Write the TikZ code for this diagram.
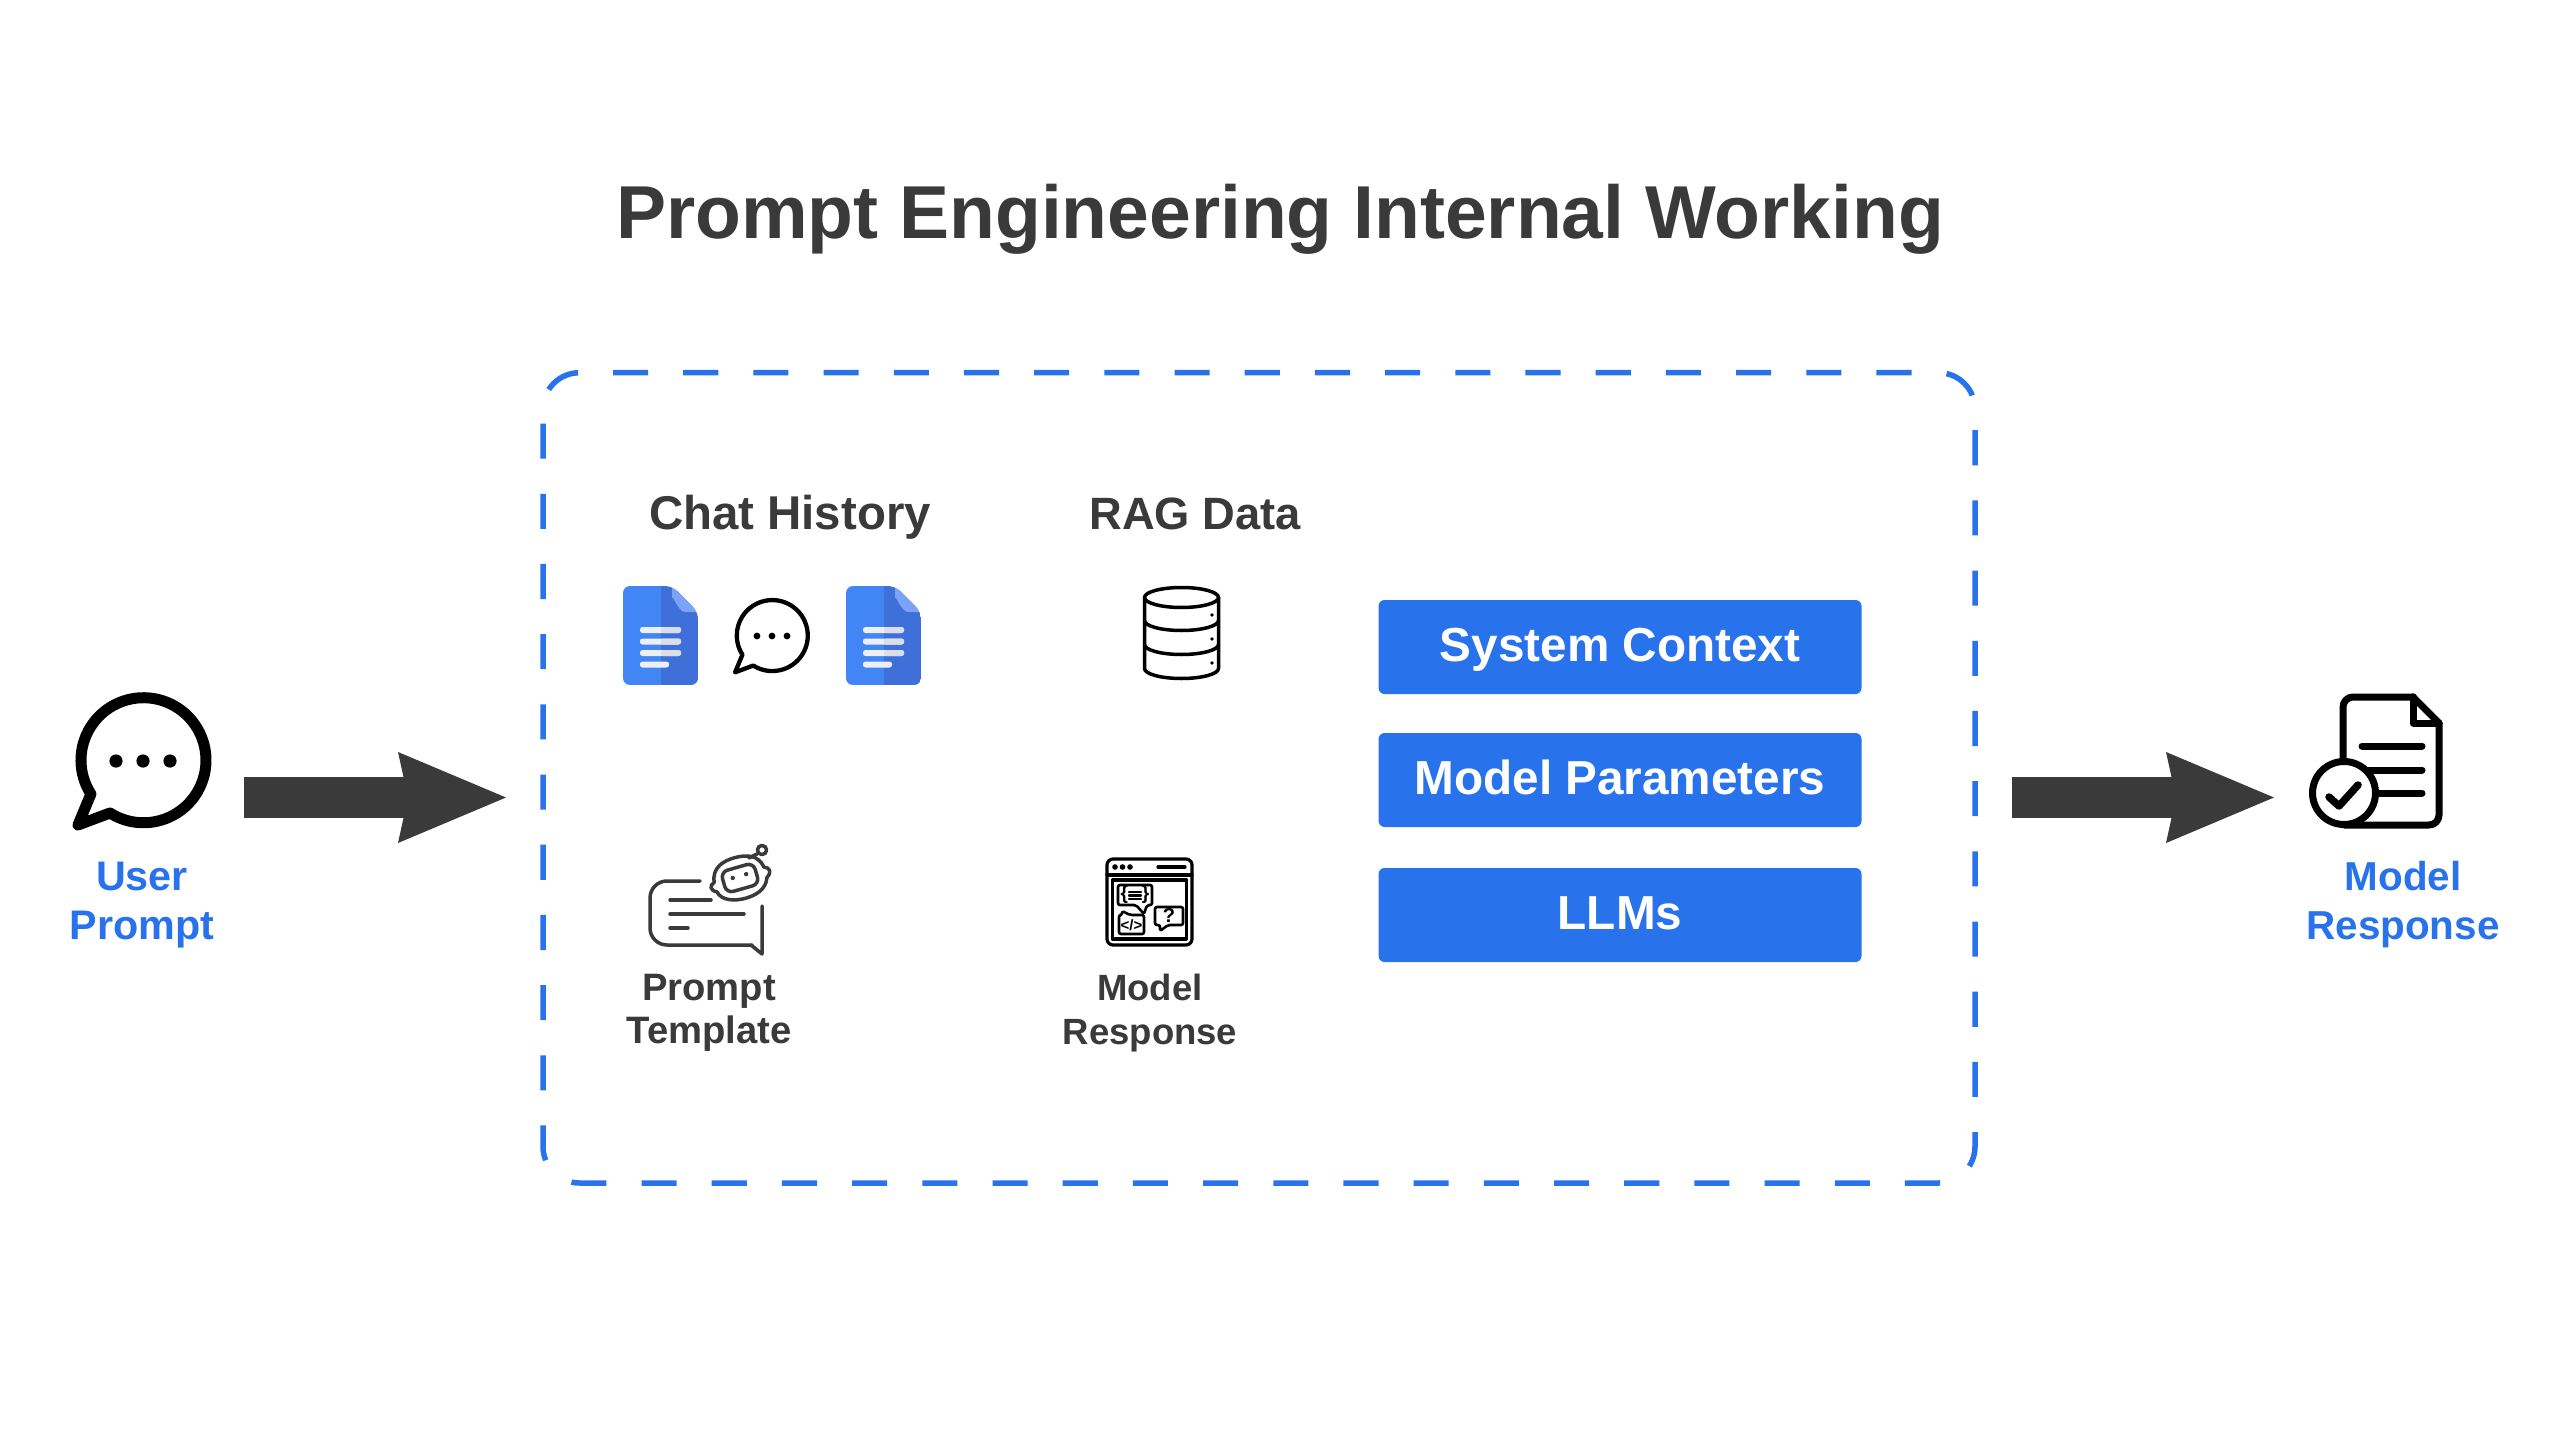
\documentclass[tikz,border=0pt]{standalone}
\usepackage{fontspec}
\setmainfont{Liberation Sans}
\usetikzlibrary{arrows.meta}
\definecolor{ink}{HTML}{3A3A3A}
\definecolor{brand}{HTML}{2873EB}
\definecolor{docA}{HTML}{4285F4}
\definecolor{docB}{HTML}{3F6FD9}
\definecolor{docC}{HTML}{7BA3F7}
\definecolor{docL}{HTML}{EEEFF4}
\definecolor{docM}{HTML}{D9DEEA}
\tikzset{
  every node/.style={inner sep=0pt,outer sep=0pt},
  titletext/.style={font=\bfseries\fontsize{75}{75}\selectfont,text=ink,anchor=base},
  headtext/.style={font=\bfseries\fontsize{47.4}{47.4}\selectfont,text=ink,anchor=base},
  subtext/.style={font=\bfseries\fontsize{37.5}{43.5}\selectfont,text=ink,align=center},
  bluetext/.style={font=\bfseries\fontsize{41.3}{49}\selectfont,text=brand,align=center},
  panelbox/.style={fill=brand,rounded corners=6pt,minimum width=483pt,minimum height=94pt,text=white,
    font=\bfseries\fontsize{47.7}{47.7}\selectfont,text height=29pt,text depth=0pt},
  flow/.style={draw=ink,line width=41pt,-{Stealth[length=108pt,width=91pt,inset=10pt,line width=0pt]}},
  blackline/.style={draw=black,line cap=round,line join=round},
  greyline/.style={draw=ink,line width=3.5pt,line cap=round,line join=round},
}
\newcommand{\bubbleshape}{(-33,52) arc[start angle=122.4,end angle=-212.7,radius=62.5] -- (-65,64) -- cycle}
\newcommand{\gdoc}[1]{%
\begin{scope}[shift={(#1,586)}]
  \begin{scope}
    \clip[rounded corners=7pt] (8,0) -- (0,0) -- (0,99) -- (75,99) -- (75,26) -- (49,0) [sharp corners] -- cycle;
    \fill[docA] (0,0) rectangle (38,99);
    \fill[docB] (38,0) rectangle (75,99);
    \fill[docC] (49,0) -- (75,26) -- (62,26) to[out=180,in=90] (49,13) -- cycle;
  \end{scope}
  \foreach \yy/\xx in {44/58,55.5/58,67/58,78.5/46}{
    \fill[docL,rounded corners=2.5pt] (17,\yy-3) rectangle (\xx,\yy+3);
  }
  \foreach \yy in {44,55.5,67}{
    \fill[docM,rounded corners=2.5pt] (38,\yy-3) rectangle (58,\yy+3);
  }
\end{scope}}
\begin{document}
\begin{tikzpicture}[x=1pt,y=-1pt]
\useasboundingbox[fill=white] (0,0) rectangle (2560,1439);

% title
\node[titletext] (title) at (1280,238.5) {Prompt Engineering Internal Working};

% dashed container
\draw[brand,line width=5.5pt,dash pattern=on 35.09pt off 35.1pt,rounded corners=36.5pt]
  (613,372.7) -- (1975,372.7) -- (1975,1183) -- (543,1183) -- (543,372.7) -- (613,372.7);

% user prompt icon
\begin{scope}[shift={(143,761)}]
  \draw[blackline,line width=11pt] \bubbleshape;
  \foreach \dx in {-27,0,27} \fill[black] (\dx,0) circle[radius=6.6];
\end{scope}
\node[bluetext] (userlabel) at (142,905) {User\\Prompt};

% flow arrows
\coordinate (inA) at (244,797.5);
\coordinate (inB) at (506,797.5);
\coordinate (outA) at (2011.5,797.5);
\coordinate (outB) at (2274,797.5);
\draw[flow] (inA) -- (inB);
\draw[flow] (outA) -- (outB);

% headings
\node[headtext] (chat) at (790,529.5) {Chat History};
\node[headtext,font=\bfseries\fontsize{45.3}{45.3}\selectfont] (rag) at (1195,529.5) {RAG Data};

% google docs + chat
\gdoc{623}
\gdoc{846}
\begin{scope}[shift={(772,636)},scale=0.568]
  \draw[blackline,line width=4.3pt] \bubbleshape;
\end{scope}
\foreach \px in {757,772,787} \fill[black] (\px,636) circle[radius=3.4];

% database
\begin{scope}[blackline,line width=3.5pt]
  \draw (1181.5,597.5) ellipse[x radius=37,y radius=10];
  \draw (1144.5,597.5) -- (1144.5,668.5) arc[start angle=180,end angle=0,x radius=37,y radius=10] -- (1218.5,597.5);
  \draw (1144.5,620.5) arc[start angle=180,end angle=0,x radius=37,y radius=10];
  \draw (1144.5,644.5) arc[start angle=180,end angle=0,x radius=37,y radius=10];
\end{scope}
\foreach \py in {615,639,663} \fill[black] (1212,\py) circle[radius=1.9];

% prompt template icon
\draw[greyline,rounded corners=17pt] (700,881) -- (650,881) -- (650,945) -- (752,945);
\draw[greyline] (751,945) -- (762,954) -- (762,906);
\draw[greyline] (670,900) -- (711,900);
\draw[greyline] (670,914) -- (744,914);
\draw[greyline] (670,928) -- (688,928);
\begin{scope}[shift={(740,878)},rotate=16]
  \draw[greyline,fill=white] (-26,-3) .. controls (-24,-18) and (-11,-21) .. (0,-21) .. controls (13,-21) and (24,-17) .. (26,-4) .. controls (32,-2) and (32,4) .. (26,7) .. controls (22,18) and (11,21) .. (0,21) .. controls (-11,21) and (-24,17) .. (-26,7) .. controls (-32,4) and (-32,-1) .. (-26,-3) -- cycle;
  \draw[greyline,rounded corners=7pt] (-17,-11) rectangle (17,11);
  \fill[ink] (-7,-2) circle[radius=2.2];
  \fill[ink] (7,-2) circle[radius=2.2];
\end{scope}
\draw[greyline] (749,858) -- (757,854);
\draw[greyline] (762,850) circle[radius=4.6];
\node[subtext,font=\bfseries\fontsize{38.2}{43.5}\selectfont] (tpl) at (709,1013) {Prompt\\Template};

% model response window icon
\begin{scope}[draw=black,line width=3.2pt,line cap=round,line join=round]
  \draw[rounded corners=6pt] (1107,859) rectangle (1192,945);
  \draw (1107,875) -- (1192,875);
  \draw (1112.5,880) rectangle (1186.5,939);
  \draw (1158,867) -- (1185,867);
  \draw[line width=2.6pt,rounded corners=2pt] (1118,885) -- (1152,885) -- (1152,905) -- (1147,905) -- (1144,914) -- (1136,905) -- (1118,905) -- cycle;
  \draw[line width=2.6pt,rounded corners=2pt] (1119,915) -- (1122,915) -- (1122,911) -- (1130,915) -- (1144,915) -- (1144,934) -- (1119,934) -- cycle;
  \draw[line width=2.6pt,rounded corners=2pt] (1155,907) -- (1183,907) -- (1183,925) -- (1168,925) -- (1160,931) -- (1160,925) -- (1155,925) -- cycle;
  \draw[line width=2.4pt] (1129,892) -- (1141,892);
  \draw[line width=2.4pt] (1129,895.5) -- (1141,895.5);
  \draw[line width=2.4pt] (1129,899) -- (1141,899);
\end{scope}
\foreach \px in {1115,1122.5,1130} \fill[black] (\px,867) circle[radius=2.8];
\node[font=\bfseries\fontsize{19}{19}\selectfont] (brace) at (1135,895) {\{\hspace{14pt}\}};
\node[font=\bfseries\fontsize{15}{15}\selectfont] (code) at (1131.5,925) {</>};
\node[font=\bfseries\fontsize{20}{20}\selectfont] (ask) at (1169,916) {?};
\node[subtext,font=\bfseries\fontsize{36.5}{43.5}\selectfont] (resp) at (1150,1013) {Model\\Response};

% panels
\node[panelbox] (sys) at (1620,647) {System Context};
\node[panelbox] (par) at (1620,780) {Model Parameters};
\node[panelbox] (llm) at (1620,915) {LLMs};

% response icon
\begin{scope}[blackline,line width=7pt]
  \draw[rounded corners=10pt] (2343,770) -- (2343,697) -- (2413,697) ;
  \draw (2413,697) -- (2439,723);
  \draw[rounded corners=10pt] (2439,723) -- (2439,825) -- (2344,825);
  \draw (2413,697) -- (2413,723) -- (2439,723);
  \draw (2362,746) -- (2422,746);
  \draw (2362,770) -- (2422,770);
  \draw (2362,793) -- (2422,793);
  \draw[fill=white] (2344,793) circle[radius=31.5];
  \draw[line width=7.5pt] (2329,797) -- (2339,806) -- (2358,785);
\end{scope}
\node[bluetext,font=\bfseries\fontsize{40.4}{49}\selectfont] (resplabel) at (2403,905) {Model\\Response};
\end{tikzpicture}
\end{document}
